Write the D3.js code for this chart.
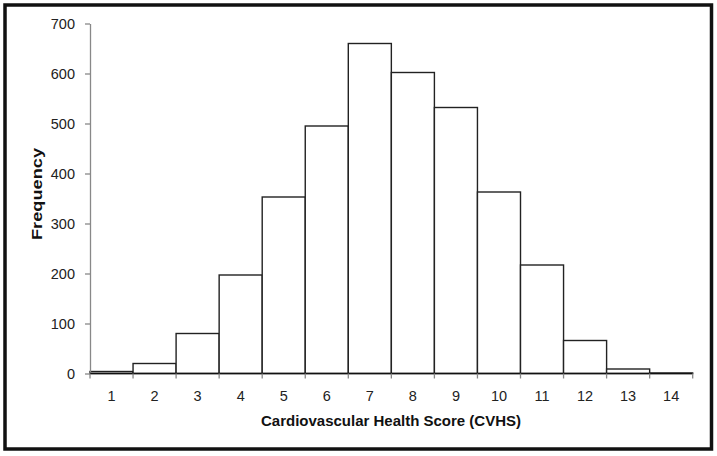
<!DOCTYPE html>
<html><head><meta charset="utf-8">
<script src="https://cdn.jsdelivr.net/npm/d3@7"></script>
<style>body{margin:0;background:#fff}svg{display:block}</style>
</head><body>
<script>
const categories = ["1","2","3","4","5","6","7","8","9","10","11","12","13","14"];
const frequency = [4, 20, 80, 197, 353, 495, 660, 602, 532, 363, 217, 66, 9, 1];
const yTicks = [0, 100, 200, 300, 400, 500, 600, 700];
const xTitle = "Cardiovascular Health Score (CVHS)";
const yTitle = "Frequency";

const W = 717, H = 456;
const svg = d3.select("body").append("svg").attr("width", W).attr("height", H);
svg.append("rect").attr("width", W).attr("height", H).attr("fill", "#fff");

// outer frame
svg.append("rect").attr("x", 5).attr("y", 5).attr("width", 706.5).attr("height", 444)
  .attr("fill", "none").attr("stroke", "#111").attr("stroke-width", 3.5);

const x0 = 90, x1 = 692.7, y0 = 373.5, y1 = 23.5;
const x = d3.scaleBand().domain(categories).range([x0, x1]).padding(0);
const y = d3.scaleLinear().domain([0, 700]).range([y0, y1]);

// bars
svg.append("g").selectAll("rect").data(frequency).join("rect")
  .attr("x", (d, i) => x(categories[i]))
  .attr("y", d => y(d))
  .attr("width", x.bandwidth())
  .attr("height", d => y(0) - y(d))
  .attr("fill", "#fff").attr("stroke", "#222").attr("stroke-width", 1.4);

// y axis
const yAxis = svg.append("g").attr("transform", `translate(${x0},0)`)
  .call(d3.axisLeft(y).tickValues(yTicks).tickSize(5).tickPadding(10).tickSizeOuter(0));
yAxis.select(".domain").attr("stroke", "#888").attr("stroke-width", 1.3);
yAxis.selectAll(".tick line").attr("stroke", "#888").attr("stroke-width", 1.3);
yAxis.selectAll("text").attr("font-family", "Liberation Sans, Arial, sans-serif")
  .attr("font-size", 14.5).attr("fill", "#222");

// x axis: ticks at bar boundaries
const bounds = categories.map(c => x(c)).concat([x1]);
const xAxisG = svg.append("g");
xAxisG.append("line").attr("x1", x0).attr("x2", x1).attr("y1", y0).attr("y2", y0)
  .attr("stroke", "#111").attr("stroke-width", 1.5);
xAxisG.selectAll("line.tk").data(bounds).join("line").attr("class", "tk")
  .attr("x1", d => d).attr("x2", d => d).attr("y1", y0).attr("y2", y0 + 5)
  .attr("stroke", "#888").attr("stroke-width", 1.3);
xAxisG.selectAll("text").data(categories).join("text")
  .attr("x", d => x(d) + x.bandwidth() / 2).attr("y", 401)
  .attr("text-anchor", "middle")
  .attr("font-family", "Liberation Sans, Arial, sans-serif")
  .attr("font-size", 14.5).attr("fill", "#222").text(d => d);

// titles
svg.append("text").attr("x", 391).attr("y", 426).attr("text-anchor", "middle")
  .attr("font-family", "Liberation Sans, Arial, sans-serif").attr("font-weight", "bold")
  .attr("font-size", 15).attr("fill", "#111").text(xTitle);
svg.append("text").attr("transform", "translate(42,194) rotate(-90)").attr("text-anchor", "middle")
  .attr("font-family", "Liberation Sans, Arial, sans-serif").attr("font-weight", "bold")
  .attr("font-size", 15.5).attr("fill", "#111")
  .attr("textLength", 92).attr("lengthAdjust", "spacingAndGlyphs").text(yTitle);
</script>
</body></html>
